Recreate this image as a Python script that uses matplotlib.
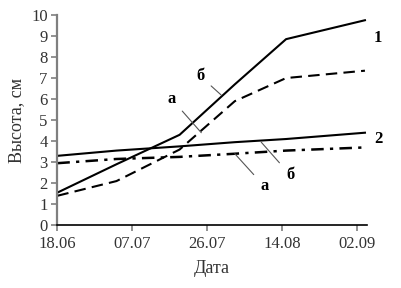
import matplotlib
matplotlib.use('Agg')
import matplotlib.pyplot as plt

# ── data (days since 18.06) ──────────────────────────────────────────
days = [0, 15, 31, 45, 58, 78]
h1_b = [1.55, 2.9, 4.3, 6.7, 8.85, 9.75]    # 1, variant б (solid)
h1_a = [1.4, 2.1, 3.6, 5.9, 7.0, 7.35]      # 1, variant а (dashed)
h2_b = [3.3, 3.55, 3.75, 3.95, 4.1, 4.4]    # 2, variant б (solid)
h2_a = [2.95, 3.15, 3.25, 3.4, 3.55, 3.7]   # 2, variant а (dash-dot)

tick_days = [0, 19, 38, 57, 76]
tick_labels = ['18.06', '07.07', '26.07', '14.08', '02.09']

plt.rcParams['font.family'] = ['Liberation Serif', 'DejaVu Serif']
AX_COL = '#7f7f7f'

fig = plt.figure(figsize=(4.01, 2.88), dpi=100)
ax = fig.add_axes([0.143, 0.218, 0.772, 0.730])

kw = dict(color='black', lw=1.5)
ax.plot(days, h1_b, '-', **kw)
ax.plot(days, h1_a, dashes=(5.5, 3), **kw)
ax.plot(days, h2_b, '-', **kw)
ax.plot(days, h2_a, dashes=(5, 2.5, 1.3, 2.5), color='black', lw=1.8)

ax.set_xlim(0, 78.5)
ax.set_ylim(0, 10)
ax.set_yticks(range(0, 11))
ax.set_xticks(tick_days)
ax.set_xticklabels(tick_labels)
for s in ('top', 'right'):
    ax.spines[s].set_visible(False)
ax.spines['left'].set_color(AX_COL)
ax.spines['left'].set_linewidth(1.6)
ax.spines['bottom'].set_color('black')
ax.spines['bottom'].set_linewidth(1.2)
ax.tick_params(axis='both', labelsize=12, color=AX_COL, width=1.2,
               length=4, direction='out', labelcolor='#333333')
ax.tick_params(axis='y', pad=3)
ax.set_xlabel('Дата', fontsize=13, color='#333333', labelpad=6)
ax.set_ylabel('Высота, см', fontsize=13, color='#333333', labelpad=4)

# curve numbers
bold = dict(fontsize=12, fontweight='bold', ha='left', va='center')
ax.text(80.3, 8.9, '1', clip_on=False, **bold)
ax.text(80.3, 4.1, '2', clip_on=False, **bold)

# variant labels with leader lines
lead = dict(arrowprops=dict(arrowstyle='-', color='#555555', lw=0.8,
                            shrinkA=4, shrinkB=0),
            fontsize=12, fontweight='bold', ha='center', va='center')
ax.annotate('б', xy=(41.5, 6.2), xytext=(36.2, 7.1), **lead)
ax.annotate('а', xy=(36.5, 4.4), xytext=(29.0, 6.0), **lead)
ax.annotate('б', xy=(51.7, 3.95), xytext=(59.0, 2.4), **lead)
ax.annotate('а', xy=(45.0, 3.4), xytext=(52.5, 1.85), **lead)

fig.savefig('out.png', dpi=100)
